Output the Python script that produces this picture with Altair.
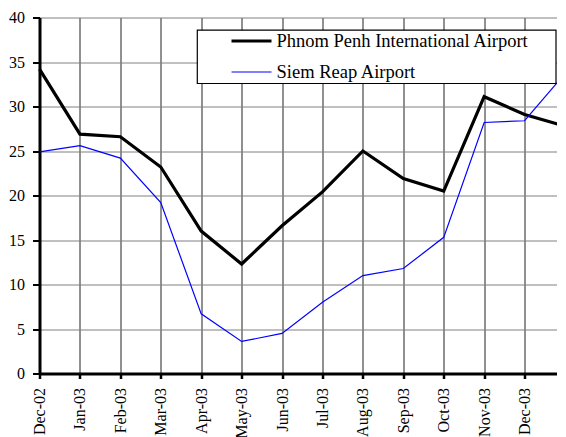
import altair as alt
import pandas as pd

months = ["Dec-02", "Jan-03", "Feb-03", "Mar-03", "Apr-03", "May-03", "Jun-03",
          "Jul-03", "Aug-03", "Sep-03", "Oct-03", "Nov-03", "Dec-03", "Jan-04"]
phnom_penh = [34.2, 26.9, 26.6, 23.2, 16.0, 12.3, 16.6, 20.4, 25.0, 21.9, 20.5, 31.1, 29.1, 27.8]
siem_reap = [24.9, 25.6, 24.2, 19.2, 6.7, 3.6, 4.5, 8.0, 11.0, 11.8, 15.3, 28.2, 28.4, 33.7]
series_names = ["Phnom Penh International Airport", "Siem Reap Airport"]
y_ticks = [0, 5, 10, 15, 20, 25, 30, 35, 40]

rows = []
for name, vals in zip(series_names, [phnom_penh, siem_reap]):
    for m, v in zip(months, vals):
        rows.append({"month": m, "value": v, "series": name})
df = pd.DataFrame(rows)

FONT = "Liberation Serif"

legend_opts = dict(title=None, orient="none", legendX=190, legendY=1.5,
                   symbolType="stroke", symbolSize=1600,
                   labelFontSize=18.5, labelFont=FONT, labelColor="#000",
                   labelOffset=3, rowPadding=-17.5, padding=0, labelLimit=500)

lines = alt.Chart(df).mark_line(clip=False).encode(
    x=alt.X("month:O", sort=months, title=None,
            scale=alt.Scale(type="point", padding=0),
            axis=alt.Axis(labelAngle=-90, labelFontSize=16, labelPadding=9,
                          tickSize=5, tickWidth=2.5, tickColor="#000",
                          domainWidth=3, domainColor="#000",
                          grid=True, gridColor="#222", gridWidth=1)),
    y=alt.Y("value:Q", title=None, scale=alt.Scale(domain=[0, 40], nice=False),
            axis=alt.Axis(values=y_ticks, labelFontSize=16, labelPadding=8,
                          tickSize=7, tickWidth=2, tickColor="#000",
                          domainWidth=3, domainColor="#000",
                          grid=True, gridColor="#808080", gridWidth=1)),
    color=alt.Color("series:N", sort=series_names,
                    scale=alt.Scale(domain=series_names, range=["#000000", "#0000ff"]),
                    legend=alt.Legend(**legend_opts)),
    strokeWidth=alt.StrokeWidth("series:N", sort=series_names,
                                scale=alt.Scale(domain=series_names, range=[3.2, 1.2]),
                                legend=alt.Legend(**legend_opts)),
)

frame = alt.Chart(pd.DataFrame({"a": [0]})).mark_rect(
    fill="white", stroke="#000", strokeWidth=1.2
).encode(
    x=alt.value(157.8), x2=alt.value(516.5), y=alt.value(12.7), y2=alt.value(66)
)

chart = alt.layer(lines, frame).properties(
    width=525.5, height=356,
    autosize=alt.AutoSizeParams(type="none"),
    padding={"left": 31.5, "top": 9.5, "right": -8, "bottom": 63.5},
).configure_view(stroke=None).configure_axis(
    labelFont=FONT, labelColor="#000"
).configure_legend(labelFont=FONT)

chart.save("out.html", embed_options={"renderer": "svg", "actions": False})
